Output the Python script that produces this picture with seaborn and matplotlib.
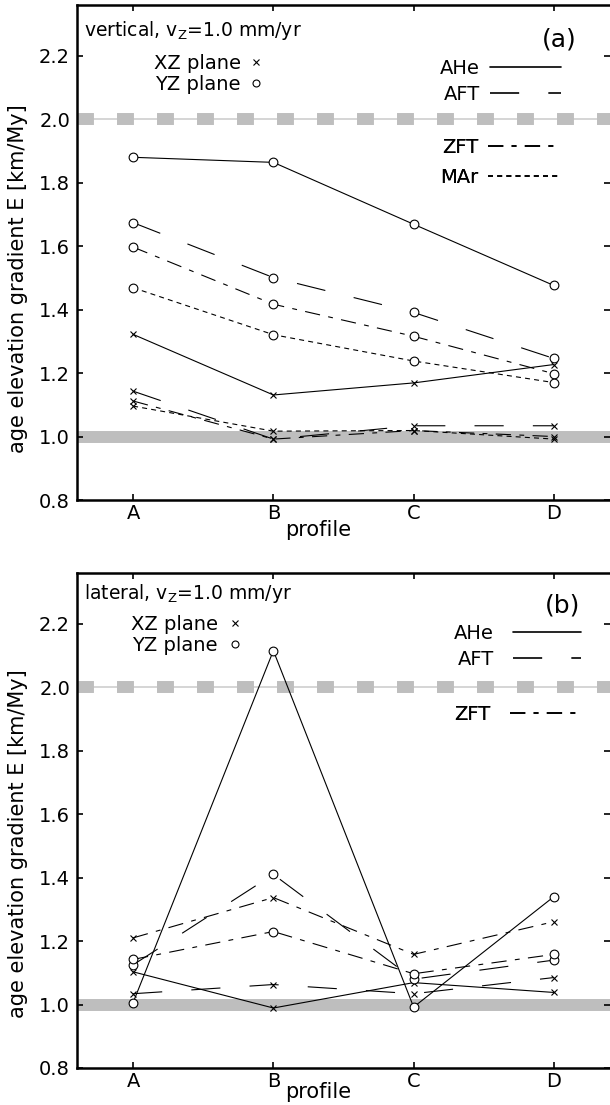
# Age-elevation gradient per profile, vertical vs lateral exhumation
import numpy as np
import pandas as pd
import seaborn as sns
import matplotlib.pyplot as plt
from matplotlib.lines import Line2D

# %%
# values
profiles = ['A', 'B', 'C', 'D']

# (a) vertical, XZ plane
vert_xz_ahe = [1.322, 1.131, 1.169, 1.227]
vert_xz_aft = [1.143, 0.992, 1.034, 1.034]
vert_xz_zft = [1.112, 0.992, 1.019, 1.000]
vert_xz_mar = [1.096, 1.017, 1.019, 0.992]
# (a) vertical, YZ plane
vert_yz_ahe = [1.880, 1.864, 1.669, 1.476]
vert_yz_aft = [1.674, 1.501, 1.391, 1.246]
vert_yz_zft = [1.597, 1.417, 1.316, 1.198]
vert_yz_mar = [1.469, 1.321, 1.238, 1.170]

# (b) lateral, XZ plane
lat_xz_ahe = [1.103, 0.989, 1.069, 1.038]
lat_xz_aft = [1.034, 1.063, 1.034, 1.085]
lat_xz_zft = [1.210, 1.337, 1.158, 1.261]
# (b) lateral, YZ plane
lat_yz_ahe = [1.006, 2.115, 0.992, 1.340]
lat_yz_aft = [1.125, 1.410, 1.080, 1.140]
lat_yz_zft = [1.142, 1.230, 1.097, 1.158]


def make_df(series):
    rows = []
    for mineral, vals in series.items():
        for p, v in zip(profiles, vals):
            rows.append({'profile': p, 'E': v, 'mineral': mineral})
    return pd.DataFrame(rows)


vert_xz = make_df({'AHe': vert_xz_ahe, 'AFT': vert_xz_aft,
                   'ZFT': vert_xz_zft, 'MAr': vert_xz_mar})
vert_yz = make_df({'AHe': vert_yz_ahe, 'AFT': vert_yz_aft,
                   'ZFT': vert_yz_zft, 'MAr': vert_yz_mar})
lat_xz = make_df({'AHe': lat_xz_ahe, 'AFT': lat_xz_aft, 'ZFT': lat_xz_zft})
lat_yz = make_df({'AHe': lat_yz_ahe, 'AFT': lat_yz_aft, 'ZFT': lat_yz_zft})

# %%
sns.set_style('ticks')
plt.rcParams['font.family'] = ['DejaVu Sans']
plt.rcParams['mathtext.default'] = 'regular'
plt.rcParams['lines.scale_dashes'] = False
for k in ['text.color', 'axes.labelcolor', 'xtick.color', 'ytick.color',
          'axes.edgecolor']:
    plt.rcParams[k] = 'black'

dash_map = {'AHe': '', 'AFT': (21, 21), 'ZFT': (11, 6, 3.5, 6), 'MAr': (3.6, 3)}
band_col = '#bebebe'

fig = plt.figure(figsize=(6.1, 11.05), dpi=100)
ax_a = fig.add_axes([77 / 610, 0.5475, 533 / 610, 0.448])
ax_b = fig.add_axes([77 / 610, 0.0335, 533 / 610, 0.448])


def draw_panel(ax, xz, yz, title, tag, geo):
    ax.axhline(1.0, color=band_col, lw=8.6, zorder=0.5)
    ax.axhline(2.0, color='#cacaca', lw=1.1, zorder=0.5)
    ax.axhline(2.0, color=band_col, lw=8.6, dashes=(12.2, 16.6), zorder=0.6)

    mins = list(xz['mineral'].unique())
    dsub = {m: dash_map[m] for m in mins}
    sns.lineplot(data=xz, x='profile', y='E', style='mineral', dashes=dsub,
                 markers={m: 'x' for m in mins}, color='k', lw=0.8,
                 markersize=4, mec='k', mew=0.8, estimator=None,
                 legend=False, ax=ax)
    sns.lineplot(data=yz, x='profile', y='E', style='mineral', dashes=dsub,
                 markers={m: 'o' for m in mins}, color='k', lw=0.8,
                 markersize=6.3, mfc='w', mec='k', mew=0.8, estimator=None,
                 legend=False, ax=ax)

    ax.set_xlim(-0.4, 3.4)
    ax.set_ylim(0.8, 2.36)
    ax.set_yticks(np.arange(0.8, 2.21, 0.2))
    ax.set_yticklabels([f'{t:.1f}' for t in np.arange(0.8, 2.21, 0.2)])
    ax.tick_params(direction='in', top=True, right=True, length=4, width=1.2,
                   labelsize=14)
    ax.tick_params(axis='y', pad=5)
    ax.tick_params(axis='x', pad=3)
    for s in ['left', 'bottom', 'top']:
        ax.spines[s].set_linewidth(1.8)
    ax.spines['right'].set_visible(False)
    ax.set_xlabel('profile', fontsize=15)
    ax.set_ylabel('age elevation gradient E [km/My]', fontsize=15)
    ax.xaxis.set_label_coords(0.452, geo['xlab_y'])
    ax.yaxis.set_label_coords(-0.111, geo['ylab_y'])
    ax.yaxis.label.set_va('center')
    ax.xaxis.label.set_va('center')

    ax.text(geo['title_x'], geo['title_y'], title, fontsize=13.5,
            ha='left', va='center')
    ax.text(geo['tag_x'], geo['tag_y'], tag, fontsize=18, ha='right', va='center')

    # plane legend (text first, marker after)
    mk = [Line2D([], [], ls='none', marker='x', color='k', ms=4, mew=0.8),
          Line2D([], [], ls='none', marker='o', mfc='w', mec='k', ms=5, mew=0.8)]
    leg1 = ax.legend(mk, ['XZ plane', 'YZ plane'], markerfirst=False,
                     frameon=False, loc='upper left', fontsize=14, numpoints=1,
                     bbox_to_anchor=geo['plane_anchor'], borderpad=0,
                     borderaxespad=0, handlelength=1.0,
                     handletextpad=geo['plane_pad'], labelspacing=0.1)
    ax.add_artist(leg1)

    # line style legends
    groups = geo['line_groups']
    for grp, anchor, sp in zip(groups, geo['line_anchors'], geo['spacing']):
        hs = [Line2D([], [], color='k', lw=1.2,
                     ls='-' if dash_map[m] == '' else (0, dash_map[m]))
              for m in grp]
        lg = ax.legend(hs, grp, markerfirst=False, frameon=False,
                       loc='upper left', fontsize=14, bbox_to_anchor=anchor,
                       borderpad=0, borderaxespad=0,
                       handlelength=geo['hlen'], handletextpad=geo['hpad'],
                       labelspacing=sp)
        ax.add_artist(lg)


def yfrac(v):
    return (v - 0.8) / 1.56


geo_a = {'title_x': -0.35, 'title_y': 2.279, 'tag_x': 3.165, 'tag_y': 2.25,
         'plane_anchor': (0.144, yfrac(2.205)), 'plane_pad': 0.3,
         'line_groups': [['AHe', 'AFT'], ['ZFT', 'MAr']],
         'line_anchors': [(0.681, yfrac(2.19)), (0.681, yfrac(1.94))],
         'spacing': [0.35, 0.55],
         'hlen': 3.66, 'hpad': 0.5,
         'xlab_y': -0.061, 'ylab_y': 0.448}
geo_b = {'title_x': -0.35, 'title_y': 2.295, 'tag_x': 3.19, 'tag_y': 2.258,
         'plane_anchor': (0.101, yfrac(2.228)), 'plane_pad': 0.4,
         'line_groups': [['AHe', 'AFT'], ['ZFT']],
         'line_anchors': [(0.707, yfrac(2.2)), (0.707, yfrac(1.945))],
         'spacing': [0.35, 0.35],
         'hlen': 3.5, 'hpad': 1.0,
         'xlab_y': -0.048, 'ylab_y': 0.453}

draw_panel(ax_a, vert_xz, vert_yz, 'vertical, v$_{Z}$=1.0 mm/yr', '(a)', geo_a)
draw_panel(ax_b, lat_xz, lat_yz, 'lateral, v$_{Z}$=1.0 mm/yr', '(b)', geo_b)

fig.savefig('out.png', dpi=100)
